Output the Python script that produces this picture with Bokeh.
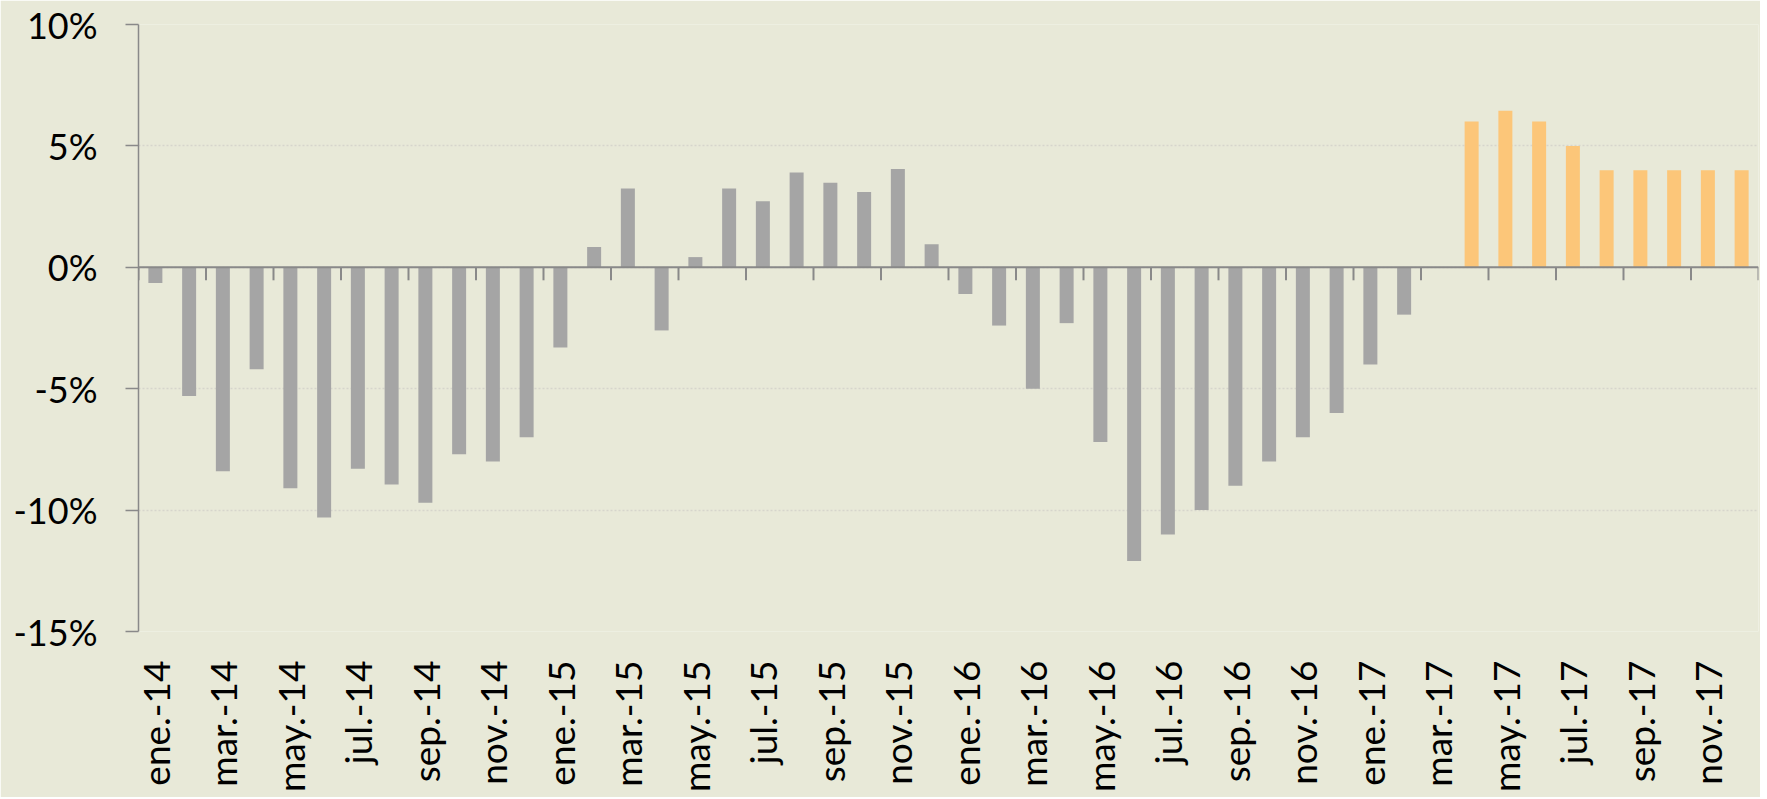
import numpy as np
from bokeh.plotting import figure
from bokeh.models import Range1d, FixedTicker, PrintfTickFormatter, Span
from bokeh.embed import file_html
from bokeh.resources import INLINE

months = [
    "ene.-14", "feb.-14", "mar.-14", "abr.-14", "may.-14", "jun.-14", "jul.-14", "ago.-14", "sep.-14", "oct.-14", "nov.-14", "dic.-14",
    "ene.-15", "feb.-15", "mar.-15", "abr.-15", "may.-15", "jun.-15", "jul.-15", "ago.-15", "sep.-15", "oct.-15", "nov.-15", "dic.-15",
    "ene.-16", "feb.-16", "mar.-16", "abr.-16", "may.-16", "jun.-16", "jul.-16", "ago.-16", "sep.-16", "oct.-16", "nov.-16", "dic.-16",
    "ene.-17", "feb.-17", "mar.-17", "abr.-17", "may.-17", "jun.-17", "jul.-17", "ago.-17", "sep.-17", "oct.-17", "nov.-17", "dic.-17",
]

# observed values (ene.-14 .. feb.-17), %
observed = [
    -0.65, -5.3, -8.4, -4.2, -9.1, -10.3, -8.3, -8.95, -9.7, -7.7, -8.0, -7.0,
    -3.3, 0.84, 3.25, -2.6, 0.42, 3.25, 2.72, 3.9, 3.48, 3.1, 4.05, 0.95,
    -1.1, -2.4, -5.0, -2.3, -7.2, -12.1, -11.0, -10.0, -9.0, -8.0, -7.0, -6.0,
    -4.0, -1.95,
]
# projected values (abr.-17 .. dic.-17), %
projected = [6.0, 6.45, 6.0, 5.0, 4.0, 4.0, 4.0, 4.0, 4.0]

obs_x = list(range(len(observed)))
proj_start = months.index("abr.-17")
proj_x = list(range(proj_start, proj_start + len(projected)))

BG = "#E8E9D8"
AXIS = "#898989"
FONT = "Lato"

p = figure(width=1760, height=797, output_backend="svg", toolbar_location=None,
           x_range=Range1d(-0.5, len(months) - 0.5), y_range=Range1d(-15, 10),
           min_border_left=138, min_border_right=2, min_border_top=24, min_border_bottom=166)
p.background_fill_color = BG
p.border_fill_color = BG
p.outline_line_color = None

# gridlines
p.xgrid.grid_line_color = None
p.ygrid.grid_line_color = "#D6D5CC"
p.ygrid.grid_line_dash = "2 2"
p.ygrid.grid_line_width = 1.5

# bars
p.vbar(x=obs_x, top=observed, bottom=0, width=0.415, fill_color="#A5A5A5", line_color=None)
p.vbar(x=proj_x, top=projected, bottom=0, width=0.415, fill_color="#FCC679", line_color=None)

# zero axis line with tick marks at category boundaries every two months
p.add_layout(Span(location=0, dimension="width", line_color=AXIS, line_width=2))
bounds = [i - 0.5 for i in range(0, len(months) + 1, 2)]
p.ray(x=bounds, y=[0] * len(bounds), length=13, length_units="screen",
      angle=-np.pi / 2, line_color=AXIS, line_width=2)

# y axis
p.yaxis.ticker = FixedTicker(ticks=[-15, -10, -5, 0, 5, 10])
p.yaxis.formatter = PrintfTickFormatter(format="%d%%")
p.yaxis.axis_line_color = AXIS
p.yaxis.axis_line_width = 1.5
p.yaxis.major_tick_line_color = AXIS
p.yaxis.major_tick_line_width = 1.5
p.yaxis.major_tick_out = 13
p.yaxis.major_tick_in = 0
p.yaxis.minor_tick_line_color = None
p.yaxis.major_label_standoff = 28
p.yaxis.major_label_text_font = FONT
p.yaxis.major_label_text_font_size = "36px"
p.yaxis.major_label_text_color = "#000000"

# x axis: labels only, every other month
label_ticks = list(range(0, len(months), 2))
p.xaxis.ticker = FixedTicker(ticks=label_ticks)
p.xaxis.major_label_overrides = {i: months[i] for i in label_ticks}
p.xaxis.major_label_orientation = np.pi / 2
p.xaxis.axis_line_color = None
p.xaxis.major_tick_line_color = None
p.xaxis.minor_tick_line_color = None
p.xaxis.major_tick_out = 0
p.xaxis.major_tick_in = 0
p.xaxis.major_label_standoff = 29
p.xaxis.major_label_text_font = FONT
p.xaxis.major_label_text_font_size = "37px"
p.xaxis.major_label_text_color = "#000000"

open("out.html", "w").write(file_html(p, INLINE))
